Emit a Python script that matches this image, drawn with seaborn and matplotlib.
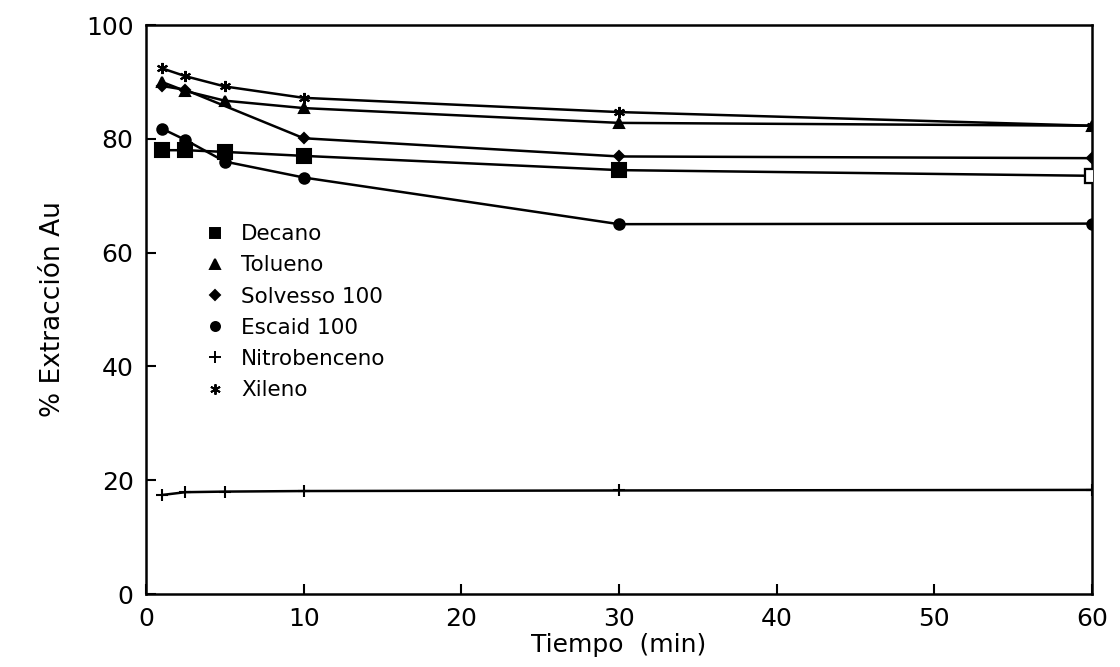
import matplotlib
matplotlib.use("Agg")
import matplotlib.pyplot as plt
import seaborn as sns
import pandas as pd
from matplotlib.lines import Line2D

# ---- data ----
decano_x = [1, 2.5, 5, 10, 30, 60]
decano_y = [78.0, 78.0, 77.7, 77.0, 74.5, 73.5]

tolueno_x = [1, 2.5, 5, 10, 30, 60]
tolueno_y = [90.0, 88.4, 86.7, 85.4, 82.8, 82.3]

solvesso_x = [1, 2.5, 10, 30, 60]
solvesso_y = [89.3, 88.6, 80.1, 76.9, 76.6]

escaid_x = [1, 2.5, 5, 10, 30, 60]
escaid_y = [81.8, 79.8, 76.0, 73.2, 65.0, 65.1]

nitro_x = [1, 2.5, 5, 10, 30, 60]
nitro_y = [17.4, 17.9, 18.0, 18.1, 18.2, 18.3]

xileno_x = [1, 2.5, 5, 10, 30, 60]
xileno_y = [92.4, 91.0, 89.2, 87.2, 84.7, 82.3]

series_names = ["Decano", "Tolueno", "Solvesso 100", "Escaid 100", "Nitrobenceno", "Xileno"]
x_ticks = [0, 10, 20, 30, 40, 50, 60]
y_ticks = [0, 20, 40, 60, 80, 100]

xs = [decano_x, tolueno_x, solvesso_x, escaid_x, nitro_x, xileno_x]
ys = [decano_y, tolueno_y, solvesso_y, escaid_y, nitro_y, xileno_y]

frames = []
for name, x, y in zip(series_names, xs, ys):
    frames.append(pd.DataFrame({"Tiempo": x, "Extr": y, "Serie": name}))
df = pd.concat(frames, ignore_index=True)

asterisk = (6, 2, 0)
markers = {"Decano": "s", "Tolueno": "^", "Solvesso 100": "D",
           "Escaid 100": "o", "Nitrobenceno": "+", "Xileno": asterisk}
msizes = {"Decano": 9.5, "Tolueno": 7, "Solvesso 100": 5.5,
          "Escaid 100": 7.5, "Nitrobenceno": 8, "Xileno": 8}
leg_sizes = {"Decano": 7, "Tolueno": 6.5, "Solvesso 100": 5.5,
             "Escaid 100": 6.5, "Nitrobenceno": 8, "Xileno": 7.5}

sns.set_theme(style="white")
plt.rcParams['font.family'] = ['DejaVu Sans']
plt.rcParams['text.color'] = 'black'
plt.rcParams['axes.labelcolor'] = 'black'
plt.rcParams['xtick.color'] = 'black'
plt.rcParams['ytick.color'] = 'black'

fig = plt.figure(figsize=(11.2, 6.67), dpi=100)
ax = fig.add_axes([0.1304, 0.1094, 0.8446, 0.8531])

for name in series_names:
    sub = df[df["Serie"] == name]
    sns.lineplot(data=sub, x="Tiempo", y="Extr", ax=ax, color="black",
                 linewidth=1.8, marker=markers[name], markersize=msizes[name],
                 markeredgecolor="black", markerfacecolor="black",
                 markeredgewidth=1.5, legend=False, estimator=None)

# Open square for the last Decano point
sub = df[df["Serie"] == "Decano"]
ax.plot(sub["Tiempo"].iloc[-1:], sub["Extr"].iloc[-1:], marker="s", markersize=9.5,
        markerfacecolor="white", markeredgecolor="black", markeredgewidth=1.6,
        linestyle="none", zorder=5)

ax.set_xlim(0, 60)
ax.set_ylim(0, 100)
ax.set_xticks(x_ticks)
ax.set_yticks(y_ticks)
ax.tick_params(direction="in", length=7, width=1.5, labelsize=18, pad=9,
               bottom=True, left=True, colors="black")
for s in ax.spines.values():
    s.set_visible(True)
    s.set_color("black")
    s.set_linewidth(1.8)

ax.set_xlabel("Tiempo  (min)", fontsize=18, labelpad=2)
ax.set_ylabel("% Extracción Au", fontsize=19, labelpad=14)

handles = [Line2D([], [], color="black", linestyle="none", marker=markers[n],
                  markersize=leg_sizes[n], markeredgewidth=1.4,
                  markerfacecolor="black") for n in series_names]
leg = ax.legend(handles, series_names, loc="upper left", bbox_to_anchor=(0.055, 0.665),
                frameon=False, fontsize=15.5, handlelength=0.8, handletextpad=0.8,
                labelspacing=0.52, borderaxespad=0)

fig.savefig("out.png", dpi=100)
